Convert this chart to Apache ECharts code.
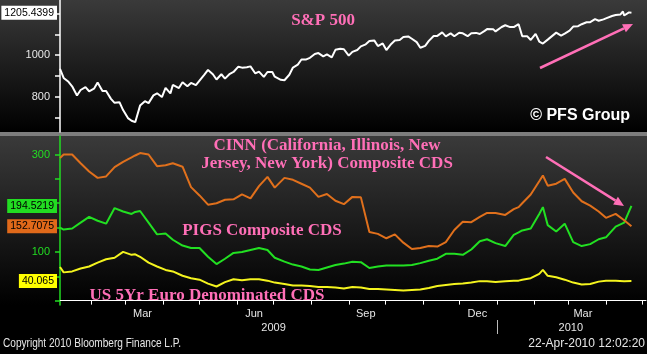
<!DOCTYPE html>
<html>
<head>
<meta charset="utf-8">
<title>S&amp;P 500 vs CDS</title>
<script src="https://cdn.jsdelivr.net/npm/echarts@6.0.0/dist/echarts.min.js"></script>
<style>
  html, body { margin: 0; padding: 0; background: #000; }
  #chart { width: 647px; height: 354px; }
</style>
</head>
<body>
<div id="chart"></div>
<script>
// S&P 500, twice a week
var spxDates = [
  '2009-01-06','2009-01-09','2009-01-13','2009-01-16','2009-01-20','2009-01-23','2009-01-27','2009-01-30',
  '2009-02-03','2009-02-06','2009-02-10','2009-02-13','2009-02-17','2009-02-20','2009-02-24','2009-02-27',
  '2009-03-03','2009-03-06','2009-03-09','2009-03-13','2009-03-17','2009-03-20','2009-03-24','2009-03-27','2009-03-31',
  '2009-04-03','2009-04-07','2009-04-09','2009-04-14','2009-04-17','2009-04-21','2009-04-24','2009-04-28',
  '2009-05-01','2009-05-05','2009-05-08','2009-05-12','2009-05-15','2009-05-19','2009-05-22','2009-05-26','2009-05-29',
  '2009-06-02','2009-06-05','2009-06-09','2009-06-12','2009-06-16','2009-06-19','2009-06-23','2009-06-26','2009-06-30',
  '2009-07-02','2009-07-07','2009-07-10','2009-07-14','2009-07-17','2009-07-21','2009-07-24','2009-07-28','2009-07-31',
  '2009-08-04','2009-08-07','2009-08-11','2009-08-14','2009-08-18','2009-08-21','2009-08-25','2009-08-28',
  '2009-09-01','2009-09-04','2009-09-08','2009-09-11','2009-09-15','2009-09-18','2009-09-22','2009-09-25','2009-09-29',
  '2009-10-02','2009-10-06','2009-10-09','2009-10-13','2009-10-16','2009-10-20','2009-10-23','2009-10-27','2009-10-30',
  '2009-11-03','2009-11-06','2009-11-10','2009-11-13','2009-11-17','2009-11-20','2009-11-24','2009-11-27',
  '2009-12-01','2009-12-04','2009-12-08','2009-12-11','2009-12-15','2009-12-18','2009-12-22','2009-12-24','2009-12-29','2009-12-31',
  '2010-01-05','2010-01-08','2010-01-12','2010-01-15','2010-01-19','2010-01-22','2010-01-26','2010-01-29',
  '2010-02-02','2010-02-05','2010-02-08','2010-02-12','2010-02-16','2010-02-19','2010-02-23','2010-02-26',
  '2010-03-02','2010-03-05','2010-03-09','2010-03-12','2010-03-16','2010-03-19','2010-03-23','2010-03-26','2010-03-30',
  '2010-04-01','2010-04-06','2010-04-09','2010-04-13','2010-04-15','2010-04-16','2010-04-20','2010-04-22'
];
var spx = [
  934.7, 890.4, 871.8, 850.1, 805.2, 832.0, 845.7, 825.9,
  838.5, 868.6, 827.2, 826.8, 789.2, 770.1, 773.1, 735.1,
  696.3, 683.4, 676.5, 756.6, 778.1, 768.5, 806.1, 815.9, 797.9,
  842.5, 815.6, 856.6, 841.5, 869.6, 850.1, 866.2, 855.2,
  877.5, 906.0, 929.2, 908.4, 882.9, 908.1, 887.0, 910.3, 919.1,
  944.7, 940.1, 942.4, 946.2, 912.0, 921.2, 895.1, 918.9, 919.3,
  896.4, 881.0, 879.1, 905.8, 940.4, 954.6, 979.3, 979.6, 987.5,
  1005.7, 1010.5, 994.4, 1004.1, 989.7, 1026.1, 1031.0, 1028.9,
  998.0, 1016.4, 1025.4, 1042.7, 1052.6, 1068.3, 1071.7, 1044.4, 1057.0,
  1025.2, 1054.7, 1071.5, 1073.2, 1087.7, 1091.1, 1079.6, 1063.4, 1036.2,
  1045.4, 1069.3, 1093.0, 1093.5, 1110.3, 1091.4, 1105.7, 1091.5,
  1108.9, 1106.0, 1091.9, 1106.4, 1107.9, 1102.5, 1118.0, 1126.5, 1126.2, 1115.1,
  1136.5, 1145.0, 1136.2, 1136.0, 1150.2, 1091.8, 1092.2, 1073.9,
  1103.3, 1066.2, 1056.7, 1075.5, 1094.9, 1109.2, 1094.6, 1104.5,
  1118.8, 1138.7, 1140.5, 1150.0, 1159.5, 1159.9, 1174.2, 1166.6, 1173.3,
  1178.1, 1189.4, 1194.4, 1197.3, 1211.7, 1192.1, 1207.2, 1205.4399
];

// CDS composites, weekly
var cdsDates = [
  '2009-01-06','2009-01-09','2009-01-16','2009-01-23','2009-01-30',
  '2009-02-06','2009-02-13','2009-02-20','2009-02-27',
  '2009-03-06','2009-03-09','2009-03-13','2009-03-20','2009-03-27',
  '2009-04-03','2009-04-09','2009-04-17','2009-04-24',
  '2009-05-01','2009-05-08','2009-05-15','2009-05-22','2009-05-29',
  '2009-06-05','2009-06-12','2009-06-19','2009-06-26',
  '2009-07-02','2009-07-10','2009-07-17','2009-07-24','2009-07-31',
  '2009-08-07','2009-08-14','2009-08-21','2009-08-28',
  '2009-09-04','2009-09-11','2009-09-18','2009-09-25',
  '2009-10-02','2009-10-09','2009-10-16','2009-10-23','2009-10-30',
  '2009-11-06','2009-11-13','2009-11-20','2009-11-27',
  '2009-12-04','2009-12-11','2009-12-18','2009-12-24','2009-12-31',
  '2010-01-08','2010-01-15','2010-01-19','2010-01-22','2010-01-29',
  '2010-02-05','2010-02-08','2010-02-12','2010-02-19','2010-02-26',
  '2010-03-05','2010-03-12','2010-03-19','2010-03-26',
  '2010-04-01','2010-04-09','2010-04-16','2010-04-22'
];
var cinn = [
  293, 300, 300, 282, 265,
  252, 255, 274, 285,
  294, 298, 303, 300, 276,
  278, 282, 275, 233,
  216, 197, 200, 207, 208,
  218, 210, 235, 254,
  232, 252, 248, 240, 232,
  213, 219, 205, 198,
  213, 212, 141, 137,
  128, 136, 119, 106, 108,
  112, 111, 120, 145,
  162, 161, 172, 180, 180,
  176, 188, 192, 200, 218,
  245, 257, 236, 240, 250,
  222, 204, 195, 183,
  170, 178, 165, 152.7075
];
var pigs = [
  150, 146, 148, 160, 172,
  164, 158, 190, 183,
  178, 182, 184, 160, 136,
  138, 125, 113, 108,
  108, 90, 75, 86, 98,
  100, 104, 108, 104,
  88, 80, 74, 70, 64,
  63, 68, 73, 76,
  80, 79, 67, 70,
  72, 72, 72, 73, 77,
  82, 86, 96, 96,
  94, 105, 122, 126, 118,
  112, 135, 140, 144, 148,
  178, 192, 155, 142, 158,
  120, 112, 116, 126,
  130, 152, 160, 194.5219
];
var us5y = [
  69, 58, 60, 66, 70,
  78, 85, 88, 100,
  94, 95, 90, 78, 70,
  63, 60, 51, 46,
  43, 35, 29, 38, 44,
  42, 44, 44, 41,
  37, 34, 31, 31, 30,
  28, 28, 27, 25,
  28, 27, 24, 24,
  23, 22, 21, 22, 23,
  26, 30, 32, 34,
  35, 37, 40, 40, 38,
  40, 41, 41, 43, 46,
  55, 63, 51, 48, 43,
  37, 33, 34, 39,
  41, 41, 40, 40.065
];

// axis marks
var monthTicks = ['2009-02-01','2009-03-01','2009-04-01','2009-05-01','2009-06-01','2009-07-01',
  '2009-08-01','2009-09-01','2009-10-01','2009-11-01','2009-12-01','2010-01-01',
  '2010-02-01','2010-03-01','2010-04-01','2010-05-01'];
var monthLabelDates = ['2009-03-15','2009-06-15','2009-09-15','2009-12-16','2010-03-13'];
var monthNames = ['Jan','Feb','Mar','Apr','May','Jun','Jul','Aug','Sep','Oct','Nov','Dec'];
var yearLabelDates = ['2009-07-01','2010-03-03'];
var yearBreak = ['2010-01-01'];
var spxTicks = [700, 800, 900, 1000, 1100, 1200];
var spxLabels = [800, 1000];
var cdsTicks = [0, 50, 100, 150, 200, 250, 300];
var cdsLabels = [100, 300];

var PINK = '#ff6fb7';
var SANS = '"Liberation Sans", Arial, sans-serif';
var SERIF = 'bold 17px "Liberation Serif", "Times New Roman", serif';

function toTime(s) {
  var p = s.split('-');
  return new Date(+p[0], +p[1] - 1, +p[2]).getTime();
}
function pairs(ds, vals) {
  return ds.map(function (d, i) { return [toTime(d), vals[i]]; });
}
// last value tag on the left of the axis
function lastTag(vals, bg) {
  var last = vals[vals.length - 1];
  return {
    silent: true, symbol: 'none', animation: false,
    lineStyle: { color: 'rgba(0,0,0,0)', width: 0 },
    data: [{ yAxis: last }],
    label: {
      show: true, position: 'start', distance: 3, opacity: 1,
      formatter: function () { return String(last); },
      backgroundColor: bg, color: '#000', padding: [2, 3, 1, 3],
      fontSize: 10.5, fontFamily: SANS
    }
  };
}
function arrow(x1, y1, x2, y2) {
  var a = Math.atan2(y2 - y1, x2 - x1), L = 10, W = 4.5;
  var bx = x2 - L * Math.cos(a), by = y2 - L * Math.sin(a);
  return [
    { type: 'line', z: 100, shape: { x1: x1, y1: y1, x2: bx, y2: by }, style: { stroke: PINK, lineWidth: 2.5 } },
    { type: 'polygon', z: 100, shape: { points: [[x2, y2],
        [bx + W * Math.sin(a), by - W * Math.cos(a)],
        [bx - W * Math.sin(a), by + W * Math.cos(a)]] }, style: { fill: PINK } }
  ];
}
function label(text, x, y, font, fill, align, sx) {
  return { type: 'text', z: 100, x: x, y: y, scaleX: sx || 1,
    style: { text: text, fill: fill, font: font, align: align || 'center', verticalAlign: 'middle',
             textAlign: align || 'center', textVerticalAlign: 'middle', lineHeight: 18 } };
}
function panelFill() {
  return new echarts.graphic.LinearGradient(0, 0, 0, 1, [
    { offset: 0, color: '#3a3a3a' }, { offset: 1, color: '#000000' }]);
}

var xMin = toTime('2009-01-06'), xMax = toTime('2010-05-04');

var dom = document.getElementById('chart');
var myChart = echarts.init(dom);
var option = {
  backgroundColor: '#000',
  animation: false,
  grid: [
    { left: 60, right: 1, top: 0, height: 132 },
    { left: 60, right: 1, top: 136, height: 169 }
  ],
  xAxis: [
    { type: 'value', gridIndex: 0, min: xMin, max: xMax, show: false },
    { type: 'value', gridIndex: 1, min: xMin, max: xMax,
      axisLine: { lineStyle: { color: '#ffffff', width: 1 } },
      axisTick: { customValues: monthTicks.map(toTime), length: 4, lineStyle: { color: '#ffffff' } },
      axisLabel: { customValues: monthLabelDates.map(toTime), margin: 3, color: '#e6e6e6',
        fontSize: 11, fontFamily: SANS,
        formatter: function (v) { return monthNames[new Date(v).getMonth()]; } },
      splitLine: { show: false } },
    { type: 'value', gridIndex: 1, min: xMin, max: xMax, position: 'bottom', offset: 15,
      axisLine: { show: false },
      axisTick: { customValues: yearBreak.map(toTime), length: 14, lineStyle: { color: '#bbbbbb' } },
      axisLabel: { customValues: yearLabelDates.map(toTime), margin: 2, color: '#e6e6e6',
        fontSize: 11, fontFamily: SANS,
        formatter: function (v) { return String(new Date(v).getFullYear()); } },
      splitLine: { show: false } }
  ],
  yAxis: [
    { type: 'value', gridIndex: 0, min: 629, max: 1267,
      axisLine: { show: true, lineStyle: { color: '#ffffff', width: 1.5 } },
      axisTick: { show: true, customValues: spxTicks, length: 5, lineStyle: { color: '#ffffff', width: 1.5 } },
      axisLabel: { customValues: spxLabels, margin: 10, color: '#e6e6e6', fontSize: 11, fontFamily: SANS,
        formatter: function (v) { return String(v); } },
      splitLine: { show: false } },
    { type: 'value', gridIndex: 1, min: -9, max: 338,
      axisLine: { show: true, lineStyle: { color: '#22dd22', width: 1.5 } },
      axisTick: { show: true, customValues: cdsTicks, length: 5, lineStyle: { color: '#22dd22', width: 1.5 } },
      axisLabel: { customValues: cdsLabels, margin: 10, color: '#22dd22', fontSize: 11, fontFamily: SANS,
        formatter: function (v) { return String(v); } },
      splitLine: { show: false } }
  ],
  series: [
    { name: 'S&P 500', type: 'line', xAxisIndex: 0, yAxisIndex: 0, data: pairs(spxDates, spx), clip: false,
      showSymbol: false, lineStyle: { color: '#ffffff', width: 2 }, markLine: lastTag(spx, '#ffffff') },
    { name: 'US 5Yr', type: 'line', xAxisIndex: 1, yAxisIndex: 1, data: pairs(cdsDates, us5y), clip: false,
      showSymbol: false, lineStyle: { color: '#f4f41e', width: 2 }, markLine: lastTag(us5y, '#ffff00') },
    { name: 'PIGS', type: 'line', xAxisIndex: 1, yAxisIndex: 1, data: pairs(cdsDates, pigs), clip: false,
      showSymbol: false, lineStyle: { color: '#22e022', width: 2 }, markLine: lastTag(pigs, '#22dd22') },
    { name: 'CINN', type: 'line', xAxisIndex: 1, yAxisIndex: 1, data: pairs(cdsDates, cinn), clip: false,
      showSymbol: false, lineStyle: { color: '#e0701c', width: 2 }, markLine: lastTag(cinn, '#e0691a') }
  ],
  graphic: [
    { type: 'rect', z: -10, shape: { x: 0, y: 0, width: 647, height: 132 }, style: { fill: panelFill() } },
    { type: 'rect', z: -10, shape: { x: 0, y: 132, width: 647, height: 4 }, style: { fill: '#7d7d7d' } },
    { type: 'rect', z: -10, shape: { x: 0, y: 136, width: 647, height: 169 }, style: { fill: panelFill() } },
    label('S&P 500', 323, 21, SERIF, PINK),
    label('CINN (California, Illinois, New\nJersey, New York) Composite CDS', 327, 155, SERIF, PINK),
    label('PIGS Composite CDS', 262, 231, SERIF, PINK),
    label('US 5Yr Euro Denominated CDS', 207, 296, SERIF, PINK),
    label('\u00a9 PFS Group', 630, 116, 'bold 16px ' + SANS, '#ffffff', 'right'),
    label('Copyright 2010 Bloomberg Finance L.P.', 3, 344, '12px ' + SANS, '#e6e6e6', 'left', 0.84),
    label('22-Apr-2010 12:02:20', 645, 344, '12px ' + SANS, '#e6e6e6', 'right')
  ].concat(arrow(540, 68, 633, 24)).concat(arrow(546, 157, 624, 206))
};
if (option && typeof option === 'object') {
  myChart.setOption(option, true);
  window.addEventListener('resize', function () { myChart.resize(); });
}
</script>
</body>
</html>
